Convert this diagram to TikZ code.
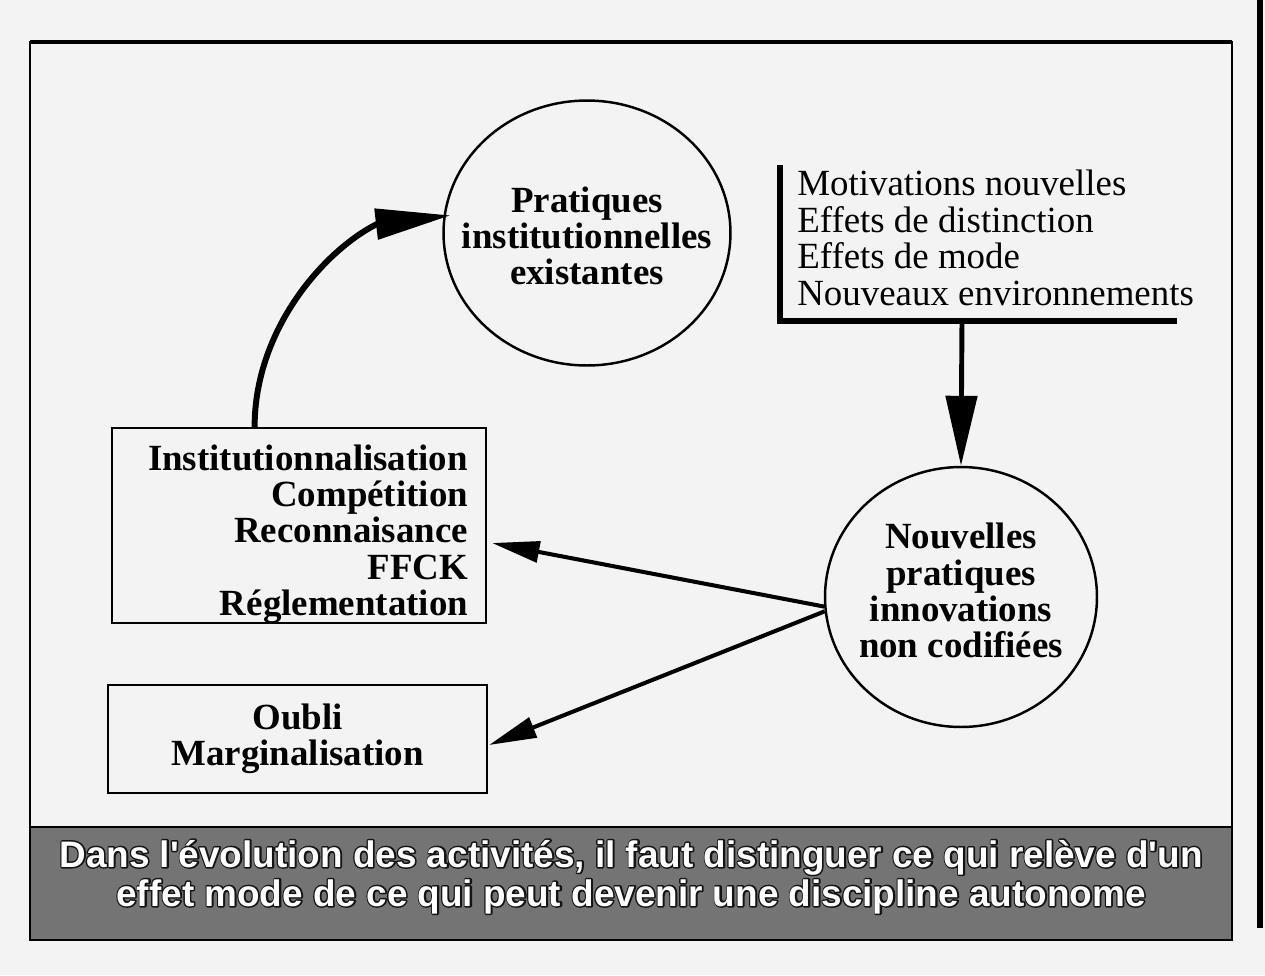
\documentclass[tikz,border=0pt]{standalone}
\usepackage{fontspec}
\setmainfont{Liberation Serif}
\newfontfamily\capfont[BoldFont={Liberation Sans Bold}]{Liberation Sans}
\usetikzlibrary{arrows.meta,shapes.geometric,calc}
\definecolor{paper}{RGB}{243,243,243}
\definecolor{bandgray}{RGB}{116,116,116}
\newcommand\outlinedtext[1]{\rlap{\special{pdf:code 1 Tr 1 j 1.7 w 0.08 0.08 0.08 RG}#1}\special{pdf:code 0 Tr}#1}
\begin{document}
\begin{tikzpicture}[x=0.02cm,y=-0.02cm,
  txt/.style={font=\fontsize{21}{20.7}\selectfont},
  btxt/.style={font=\fontsize{21}{20.7}\selectfont\bfseries},
  ell/.style={ellipse, draw, line width=1.4pt, inner sep=0pt},
  etxt/.style={btxt, align=center, inner sep=0pt},
  boxn/.style={rectangle, draw, line width=1.3pt, btxt, inner ysep=0pt},
  arr/.style={line width=2.3pt, -{Triangle[length=0.95cm,width=0.42cm]}},
  curvarr/.style={line width=3.4pt, line join=round, -{Triangle[length=1.5cm,width=0.6cm]}},
  downarr/.style={line width=2.8pt, -{Triangle[length=1.4cm,width=0.62cm]}},
  bracket/.style={line width=3.4pt},
  captxt/.style={anchor=base, inner sep=0pt, text=white, font=\capfont\bfseries\fontsize{21}{22}\selectfont}
]
\useasboundingbox (0,0) rectangle (1265,975);
\fill[paper] (0,0) rectangle (1265,975);
\fill[black] (1257,0) rectangle (1263,928);
% frame and caption band
\fill[bandgray] (30,827) rectangle (1232,940);
\draw[line width=1.3pt] (30,42) rectangle (1232,940);
\draw[line width=2.6pt] (30,42) -- (1232,42);
\draw[line width=1.6pt] (30,827) -- (1232,827);
\draw[line width=1.6pt] (30,940) -- (1232,940);

% circles and their texts
\node[ell, minimum width=5.74cm, minimum height=5.3cm] (n1) at (587,233) {};
\node[etxt, text height=2.08cm] (t1) at (n1.center) {Pratiques\\institutionnelles\\existantes};
\node[ell, minimum width=5.44cm, minimum height=5.2cm] (n2) at (961,597) {};
\node[etxt, text depth=0.26cm] (t2) at (n2.center) {Nouvelles\\pratiques\\innovations\\non codifiées};

% boxes
\node[boxn, text width=6.76cm, align=right, inner xsep=0.36cm, minimum height=3.9cm,
      text height=0.8cm, text depth=3.02cm] (b1) at (299,525.5)
  {Institutionnalisation\\Compétition\\Reconnaisance\\FFCK\\Réglementation};
\node[boxn, align=center, minimum width=7.58cm, minimum height=2.16cm] (b2) at (297.5,739)
  {Oubli\\Marginalisation};
\node[txt, align=left, anchor=north west, inner sep=0pt] (lst) at (797,170)
  {Motivations nouvelles\\Effets de distinction\\Effets de mode\\Nouveaux environnements};

% bracket
\coordinate (brk) at (962,321);
\draw[bracket] (780,165) -- (780,321) -- (1177,321);

% connectors
\draw[downarr] (brk) -- (n2.north);
\draw[arr] (n2.184) -- ([xshift=0.1cm,yshift=-0.35cm]b1.east);
\draw[arr] (n2.186) -- ([xshift=0.02cm,yshift=-0.12cm]b2.east);
\coordinate (cm) at (377,224);
\draw[curvarr] ($(b1.north west)!0.382!(b1.north east)$) .. controls +(0,-98) and +(-52,26) .. (cm) -- ([xshift=0.14cm]n1.173);

% caption
\node[captxt] (capa) at (631,867) {\outlinedtext{Dans l'évolution des activités, il faut distinguer ce qui relève d'un}};
\node[captxt] (capb) at (631,906) {\outlinedtext{effet mode de ce qui peut devenir une discipline autonome}};
\end{tikzpicture}
\end{document}
